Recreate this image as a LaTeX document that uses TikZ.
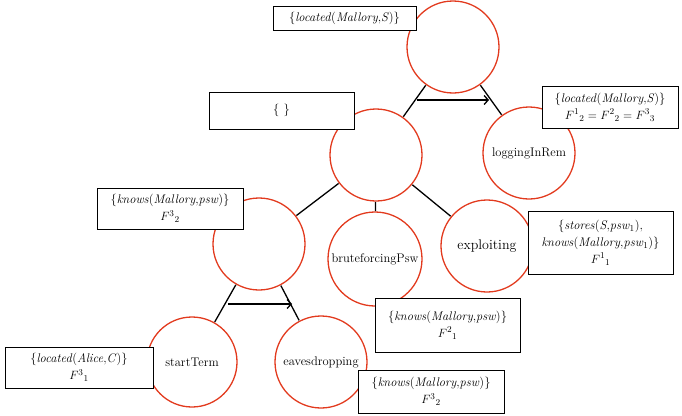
\documentclass[tikz,border=0pt]{standalone}
\usetikzlibrary{shadows,arrows.meta}
\definecolor{cred}{RGB}{226,58,30}
\begin{document}
\begin{tikzpicture}[x=1pt,y=-1pt,
  st/.style={circle,draw=cred,line width=1.3pt,inner sep=0pt,outer sep=0pt,minimum size=92pt,font=\fontsize{12.5}{15}\selectfont},
  lbl/.style={rectangle,draw=black,line width=0.9pt,fill=white,inner sep=0pt,align=center,
     font=\fontsize{12.5}{17}\selectfont,
     drop shadow={shadow xshift=0.3pt,shadow yshift=-1.2pt,fill=gray!80,opacity=1}},
  edge/.style={line width=1.3pt,draw=black,shorten <=1pt,shorten >=1pt},
  ord/.style={line width=1.3pt,draw=black,-{Straight Barb[length=4pt,width=9pt]}}]
\useasboundingbox (0,0) rectangle (682,415);
% states
\node[st] (c1) at (453,47) {};
\node[st] (c2) at (376,155) {};
\node[st] (c3) at (529,153) {loggingInRem};
\node[st] (c4) at (259,244) {};
\node[st,minimum size=94pt] (c5) at (375,259) {bruteforcingPsw};
\node[st,font=\fontsize{14}{16}\selectfont] (c6) at (487,246) {exploiting};
\node[st,minimum size=90pt] (c7) at (192,362) {startTerm};
\node[st] (c8) at (321,362) {eavesdropping};
% edges
\draw[edge] (c1) -- (c2);
\draw[edge] (c1) -- (c3);
\draw[edge] (c2) -- (c4);
\draw[edge] (c2) -- (c5);
\draw[edge] (c2) -- (c6);
\draw[edge] (c4) -- (c7);
\draw[edge] (c4) -- (c8);
% order arrows
\coordinate (a1s) at (417,100);
\coordinate (a1e) at (489,100);
\coordinate (a2s) at (228,304);
\coordinate (a2e) at (292,304);
\draw[ord] (a1s) -- (a1e);
\draw[ord] (a2s) -- (a2e);
% labels
\node[lbl,minimum width=143pt,minimum height=24pt] (b1) at (344.5,18) {\{\textit{located}(\textit{Mallory},\textit{S})\}};
\node[lbl,minimum width=145pt,minimum height=37pt] (b2) at (281.5,110.5) {\{ \}};
\node[lbl,minimum width=136pt,minimum height=42pt] (b3) at (610,107) {\{\textit{located}(\textit{Mallory},\textit{S})\}\\ $F^{1}{}_{2} = F^{2}{}_{2} = F^{3}{}_{3}$};
\node[lbl,minimum width=146pt,minimum height=41pt] (b4) at (170,208.5) {\{\textit{knows}(\textit{Mallory},\textit{psw})\}\\ $F^{3}{}_{2}$};
\node[lbl,minimum width=145pt,minimum height=63pt] (b5) at (600.5,242.5) {\{\textit{stores}(\textit{S},\textit{psw}$_1$),\\ \textit{knows}(\textit{Mallory},\textit{psw}$_1$)\}\\ $F^{1}{}_{1}$};
\node[lbl,minimum width=145pt,minimum height=54pt] (b6) at (447.5,325) {\{\textit{knows}(\textit{Mallory},\textit{psw})\}\\ $F^{2}{}_{1}$};
\node[lbl,minimum width=148pt,minimum height=41pt] (b7) at (79,367.5) {\{\textit{located}(\textit{Alice},\textit{C})\}\\ $F^{3}{}_{1}$};
\node[lbl,minimum width=146pt,minimum height=43pt] (b8) at (431,391.5) {\{\textit{knows}(\textit{Mallory},\textit{psw})\}\\ $F^{3}{}_{2}$};
\end{tikzpicture}
\end{document}
